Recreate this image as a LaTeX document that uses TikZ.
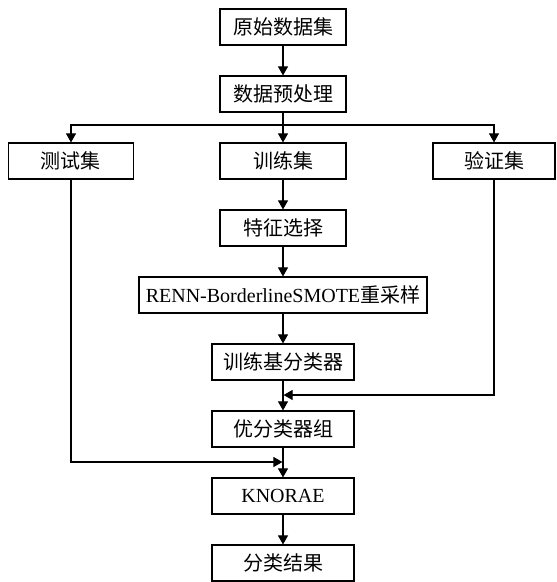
\documentclass[tikz,border=0pt]{standalone}
\usepackage{fontspec}
\setmainfont{Liberation Serif}
\newfontfamily\cjk{Noto Sans CJK SC}
\usetikzlibrary{arrows.meta}
\begin{document}
\begin{tikzpicture}[x=1pt,y=-1pt,
  box/.style={draw, line width=1.2pt, inner sep=0pt, minimum height=36pt, font=\fontsize{20}{22}\selectfont},
  flow/.style={line width=1.1pt, -{Triangle[length=9pt,width=10pt]}},
  plain/.style={line width=1.1pt}]
\useasboundingbox (0,0) rectangle (557,582);
\node[box, minimum width=126pt] (n1) at (283,27) {\cjk 原始数据集};
\node[box, minimum width=126pt] (n2) at (283,94) {\cjk 数据预处理};
\node[box, minimum width=125pt] (test) at (71,161) {\cjk 测试集};
\node[box, minimum width=126pt] (train) at (283,161) {\cjk 训练集};
\node[box, minimum width=122pt] (val) at (494,161) {\cjk 验证集};
\node[box, minimum width=126pt] (feat) at (283,228) {\cjk 特征选择};
\node[box, minimum width=288pt] (renn) at (283,295) {RENN-BorderlineSMOTE{\cjk 重采样}};
\node[box, minimum width=142pt] (base) at (283,362) {\cjk 训练基分类器};
\node[box, minimum width=142pt] (opt) at (283,429) {\cjk 优分类器组};
\node[box, minimum width=142pt] (kn) at (283,496) {KNORAE};
\node[box, minimum width=142pt] (res) at (283,563) {\cjk 分类结果};
\coordinate (bar) at (283,125);
\coordinate (mv) at (283,395);
\coordinate (mt) at (283,462);
\draw[flow] (n1) -- (n2);
\draw[flow] (n2) -- (train);
\draw[flow] (bar) -| (test.north);
\draw[flow] (bar) -| (val.north);
\draw[flow] (train) -- (feat);
\draw[flow] (feat) -- (renn);
\draw[flow] (renn) -- (base);
\draw[flow] (base) -- (opt);
\draw[flow] (opt) -- (kn);
\draw[flow] (kn) -- (res);
\draw[flow] (val.south) |- ([xshift=0.6pt]mv);
\draw[flow] (test.south) |- ([xshift=-0.6pt]mt);
\end{tikzpicture}
\end{document}
